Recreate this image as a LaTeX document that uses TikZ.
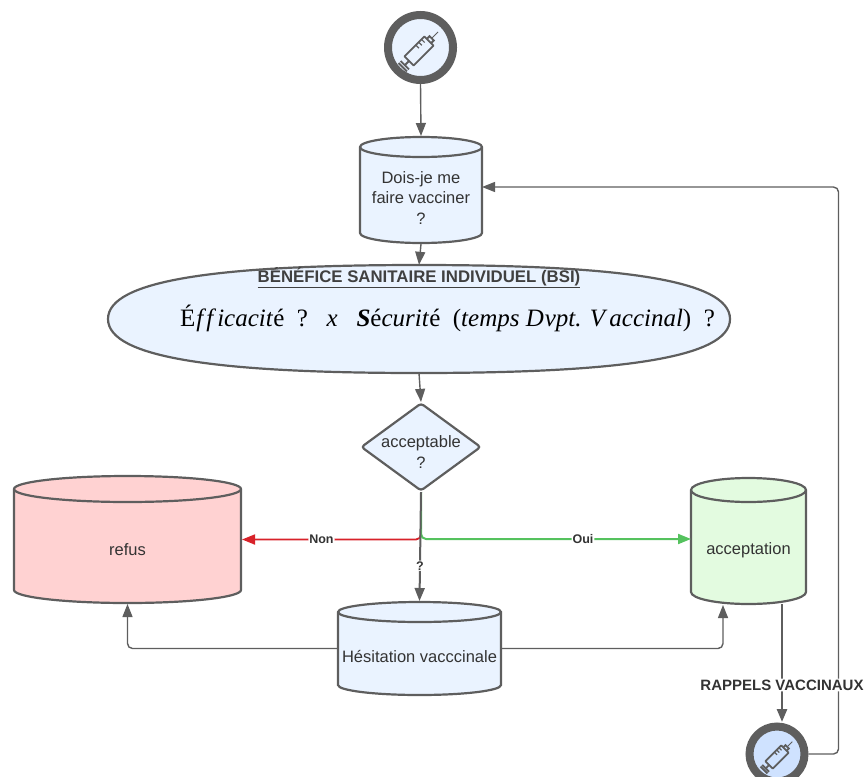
\documentclass[tikz,border=0pt]{standalone}
\usepackage{fontspec}
\setmainfont{Liberation Sans}
\newfontfamily\timesfont{Liberation Serif}
\usepackage{tikz}
\usetikzlibrary{shapes.geometric,arrows.meta}
\definecolor{trait}{HTML}{5E5E5E}
\definecolor{bleu}{HTML}{EAF3FF}
\definecolor{bleufonce}{HTML}{CFE2FF}
\definecolor{rose}{HTML}{FFD2D2}
\definecolor{vert}{HTML}{E3FBE0}
\definecolor{rouge}{HTML}{D8222A}
\definecolor{vertfonce}{HTML}{55C25E}
\tikzset{
  base/.style={draw=trait, line width=2.2pt, text=black!80, align=center, inner sep=0pt, font=\fontsize{16.5}{20.5}\selectfont},
  rond/.style={base, circle, line width=8pt, minimum size=#1},
  lien/.style={draw=trait, line width=1.4pt, rounded corners=5pt, -{Triangle[length=13pt,width=10pt]}},
  etiq/.style={fill=white, inner sep=1pt, font=\fontsize{12.5}{14}\selectfont\bfseries, text=black!80},
  pics/seringue/.style={code={
    \draw[trait, line width=1.8pt, line join=round] (-14,-6.5) rectangle (14,6.5);
    \draw[trait, line width=1.8pt] (-14,0) -- (-20,0) (-20,-6) -- (-20,6) (-23,-6) -- (-23,6);
    \draw[trait, line width=1.8pt] (14,-3) -- (18,-3) -- (18,3) -- (14,3);
    \draw[trait, line width=1pt] (18,0) -- (27,0);
    \draw[trait, line width=1.2pt] (2,-6.5) -- (2,-2) (6,-6.5) -- (6,-2) (10,-6.5) -- (10,-2);
  }}
}
% \cuve{nom}{x}{y}{largeur}{hauteur}{rayon du bord}{couleur}{texte}
\newcommand{\cuve}[8]{
  \pgfmathsetmacro{\rx}{#4/2}
  \pgfmathsetmacro{\hb}{#5/2-#6}
  \draw[trait, line width=2.2pt, fill=#7] (#2-\rx,#3-\hb) arc [start angle=180, end angle=0, x radius=\rx pt, y radius=#6pt]
    -- (#2+\rx,#3+\hb) arc [start angle=0, end angle=-180, x radius=\rx pt, y radius=#6pt] -- cycle;
  \draw[trait, line width=2.2pt] (#2-\rx,#3-\hb) arc [start angle=180, end angle=360, x radius=\rx pt, y radius=#6pt];
  \node[minimum width=#4pt, minimum height=#5pt, inner sep=0pt, outer sep=1pt] (#1) at (#2,#3) {};
  \node[base, draw=none] (#1Texte) at (#2,#3+#6*0.8) {#8};
}
\begin{document}
\begin{tikzpicture}[x=1pt,y=-1pt]
\useasboundingbox (0,0) rectangle (866,776);

\node[rond=65pt, fill=bleu] (debut) at (420.5,47.5) {};
\pic[rotate=45] at (419,51) {seringue};

\cuve{question}{421}{190}{122}{106}{10}{bleu}{Dois-je me\\faire vacciner\\?}

\draw[trait, line width=2.2pt, fill=bleu] (108,319) .. controls (108,280) and (219,265) .. (419,265)
  .. controls (619,265) and (730,280) .. (730,319) .. controls (730,358) and (619,373) .. (419,373)
  .. controls (219,373) and (108,358) .. (108,319) -- cycle;
\node[minimum width=622pt, minimum height=108pt, inner sep=0pt] (bsi) at (419,319) {};
\node[inner sep=0pt, font=\fontsize{16.8}{18}\selectfont\bfseries, text=black!75] (titre) at (419,278) {\underline{BÉNÉFICE SANITAIRE INDIVIDUEL (BSI)}};
\node[inner sep=0pt, font=\timesfont\fontsize{25}{28}\selectfont] (formule) at (447.5,318) {É\hspace{1pt}\textit{f\hspace{3pt}f\hspace{4pt}icacit}é\enspace ?\enspace\ \textit{x}\enspace\ \textbf{\textit{S}}é\textit{curit}é\enspace(\textit{temps D\hspace{1pt}vpt. V\,accinal})\enspace?};

\node[draw=trait, line width=2.2pt, diamond, shape aspect=1.36, rounded corners=3pt, fill=bleu, minimum width=120pt, minimum height=88pt, inner sep=0pt] (acceptable) at (421,447) {};
\node[base, draw=none] (acceptableTexte) at (421,452) {acceptable\\?};

\cuve{refus}{127.5}{539.5}{227}{127}{13}{rose}{refus}
\cuve{acceptation}{748.5}{541}{115}{126}{12}{vert}{acceptation}
\cuve{hesitation}{419.5}{648.5}{163}{93}{10}{bleu}{Hésitation vacccinale}

\node[rond=55pt, fill=bleufonce] (rappel) at (777,754) {};
\pic[rotate=45, scale=0.8] at (777,757) {seringue};

\coordinate (entreeOui) at (691,539);
\coordinate (sousRefus) at (127.5,604);
\coordinate (sousAcc) at (723,605);
\coordinate (sortieAcc) at (782,604);
\coordinate (arriveeRappel) at (782,722);
\coordinate (hautRetour) at (838.5,187);
\coordinate (entreeQuestion) at (482,187);

\draw[lien] (debut.south) -- (question.north);
\draw[lien] (question.south) -- (bsi.north);
\draw[lien] (bsi.south) -- (acceptable.north);

\draw[lien, draw=rouge, line width=1.8pt] (acceptable.south) |- (refus.east) node[etiq, pos=0.778] {Non};
\draw[lien, draw=vertfonce, line width=2pt] (acceptable.south) |- (entreeOui) node[etiq, pos=0.8] {Oui};
\draw[lien, line width=2pt] (acceptable.south) -- (hesitation.north) node[etiq, pos=0.676] {?};

\draw[lien] (hesitation.west) -| (sousRefus);
\draw[lien] (hesitation.east) -| (sousAcc);

\draw[lien] (rappel.east) -| (hautRetour) -- (entreeQuestion);
\draw[lien, line width=2.6pt] (sortieAcc) -- (arriveeRappel) node[etiq, pos=0.686, font=\fontsize{15}{17}\selectfont\bfseries] (rappels) {RAPPELS VACCINAUX};
\end{tikzpicture}
\end{document}
